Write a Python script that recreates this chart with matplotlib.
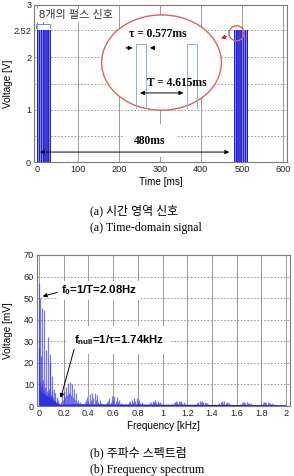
import numpy as np
import matplotlib.pyplot as plt
from matplotlib.patches import Ellipse

plt.rcParams['font.family'] = ['Liberation Sans', 'Noto Sans CJK KR']
plt.rcParams['mathtext.fontset'] = 'custom'
plt.rcParams['mathtext.rm'] = 'Liberation Sans'
plt.rcParams['mathtext.bf'] = 'Liberation Sans:bold'

# --- (a) time-domain pulse bursts ---
burst_start_ms = [0, 480]
pulses_per_burst = 8
pulse_period_ms = 4.615
pulse_width_ms = 0.577
pulse_amp_v = 2.52
time_end_ms = 600
time_ticks = [0, 100, 200, 300, 400, 500, 600]
volt_ticks = [0, 1, 2, 2.52, 3]
volt_labels = ['0', '1', '2', '2.52', '3']

# --- (b) spectrum lines ---
freq_khz = [
    0.000, 0.003, 0.006, 0.009, 0.012, 0.015, 0.018, 0.021, 0.024, 0.027,
    0.030, 0.033, 0.036, 0.040, 0.043, 0.046, 0.050, 0.053, 0.057, 0.061,
    0.065, 0.069, 0.073, 0.077, 0.081, 0.085, 0.089, 0.093, 0.097, 0.101,
    0.105, 0.109, 0.113, 0.117, 0.121, 0.126, 0.131, 0.136, 0.142, 0.148,
    0.155, 0.162, 0.170,
    0.178, 0.186, 0.194, 0.202, 0.210, 0.218, 0.226, 0.234, 0.242, 0.250,
    0.258, 0.266, 0.274, 0.282, 0.290, 0.298, 0.306, 0.314, 0.322, 0.330,
    0.340,
    0.36, 0.37, 0.38, 0.39, 0.40, 0.41, 0.42, 0.43, 0.44, 0.45, 0.46, 0.47,
    0.48, 0.49, 0.50, 0.51,
    0.54, 0.55, 0.56, 0.57, 0.58, 0.59, 0.60, 0.61, 0.62, 0.63, 0.64, 0.65,
    0.66, 0.67,
    0.72, 0.73, 0.74, 0.75, 0.76, 0.77, 0.78, 0.79, 0.80, 0.81, 0.82, 0.83,
    0.84,
    0.89, 0.90, 0.91, 0.92, 0.93, 0.94, 0.95, 0.96, 0.97, 0.98, 0.99,
    1.08, 1.09, 1.10, 1.11, 1.12, 1.13, 1.14, 1.15, 1.16, 1.17, 1.18,
    1.27, 1.28, 1.29, 1.30, 1.31, 1.32, 1.33, 1.34, 1.35, 1.36,
    1.45, 1.46, 1.47, 1.48, 1.49, 1.50, 1.51, 1.52, 1.53, 1.54, 1.55,
    1.63, 1.64, 1.65, 1.66, 1.67, 1.68, 1.69, 1.70, 1.71, 1.72,
    1.80, 1.81, 1.82, 1.83, 1.84, 1.85, 1.86, 1.87, 1.88, 1.89, 1.90,
]
volt_mv = [
    57, 27, 8, 50, 11, 23, 9, 6, 45.5, 10,
    7, 12, 5, 44.5, 8, 6, 9, 5, 26, 7,
    5, 32, 6, 4, 8, 5, 20, 24, 5, 4,
    7, 14, 4, 3, 8, 3, 6, 2, 4, 2,
    3, 1.5, 1,
    2, 5, 3, 7, 4, 9, 5, 10.5, 6, 11,
    5, 10, 4, 8, 3, 6, 2, 3, 1.5, 2,
    1,
    1, 2, 3, 4, 2.5, 5.5, 3, 6, 3.5, 6, 3, 5,
    2, 3, 1.5, 1,
    1, 2, 2.5, 3.5, 2, 4.5, 3, 4.5, 2.5, 4, 2, 3,
    1.5, 1,
    1, 2, 2.5, 3, 2, 3.5, 2.5, 3.5, 2, 3, 1.5, 2,
    1,
    1, 1.5, 2, 2.5, 2, 2.8, 2, 2.5, 1.5, 2, 1,
    1, 1.5, 2, 2.5, 1.8, 2.5, 2, 2.3, 1.5, 1.8, 1,
    1, 1.5, 2, 2.3, 1.8, 2.3, 1.7, 2, 1.2, 1.5,
    1, 1.5, 2, 2.2, 1.6, 2.2, 1.6, 1.8, 1.2, 1.4, 1,
    1, 1.4, 1.8, 2, 1.5, 2, 1.4, 1.6, 1, 1.2,
    1, 1.3, 1.7, 1.9, 1.4, 1.9, 1.3, 1.5, 1, 1.2, 1,
]
floor_khz = [0, 0.02, 0.05, 0.08, 0.11, 0.14, 0.17, 0.3, 2.0]
floor_mv = [8, 6, 5, 4, 3, 1.5, 0.8, 1, 0.6]
freq_ticks = [0, 0.2, 0.4, 0.6, 0.8, 1.0, 1.2, 1.4, 1.6, 1.8, 2.0]
freq_labels = ['0', '0.2', '0.4', '0.6', '0.8', '1', '1.2', '1.4', '1.6', '1.8', '2']

fig = plt.figure(figsize=(2.94, 4.76), dpi=100)
grid_c = '#8a8a8a'
tick_kw = dict(labelsize=6.6, length=0, pad=2, labelcolor='#222222')
serif_kr = ['Liberation Serif', 'Noto Sans CJK KR']

# ---------- top panel ----------
ax = fig.add_axes([34 / 294, 1 - 162 / 476, 253 / 294, 157 / 476])
t = [0.0]
v = [0.0]
for b in burst_start_ms:
    for k in range(pulses_per_burst):
        t0 = b + k * pulse_period_ms
        t += [t0, t0, t0 + pulse_width_ms, t0 + pulse_width_ms]
        v += [0, pulse_amp_v, pulse_amp_v, 0]
    span = (pulses_per_burst - 1) * pulse_period_ms + pulse_width_ms
    ax.fill_between([b, b + span], 0, pulse_amp_v, color='#8585ec', lw=0, zorder=2)
t.append(time_end_ms)
v.append(0)
ax.plot(t, v, color='#2222cc', lw=0.55, zorder=3)

ax.set_xlim(-7, 610)
ax.set_ylim(0, 3)
ax.set_xticks(time_ticks)
ax.set_yticks(volt_ticks)
ax.set_yticklabels(volt_labels)
ax.set_yticks([0.5, 1.5], minor=True)
ax.tick_params(which='both', **tick_kw)
ax.tick_params(which='minor', length=0)
ax.xaxis.grid(True, color=grid_c, lw=0.6)
ax.yaxis.grid(True, which='both', color=grid_c, lw=0.6, ls=(0, (2, 2)))
ax.set_axisbelow(True)
for s in ax.spines.values():
    s.set_color('#7a7a7a')
    s.set_linewidth(0.8)
ax.set_xlabel('Time [ms]', fontsize=7.2, labelpad=2)
ax.set_ylabel('Voltage [V]', fontsize=7.2)
ax.yaxis.set_label_coords(-21 / 253, 0.5)

# zoomed pulse inset
ax.add_patch(Ellipse((304, 1.90), 292, 1.82, fc='white', ec='#e06060', lw=1.0, zorder=4))
for x0 in (242, 366):
    ax.plot([x0, x0, x0 + 24, x0 + 24], [1.03, 2.25, 2.25, 1.03], color='#8fb0d8', lw=0.7, zorder=5)
serif_b = dict(family=serif_kr, fontweight='bold', fontsize=8.3)
ax.text(296, 2.44, 'τ = 0.577ms', ha='center', va='center', zorder=6, **serif_b)
arr = dict(arrowstyle='-|>', color='k', lw=0.7, mutation_scale=6)
ax.annotate('', xy=(240, 2.18), xytext=(210, 2.18), arrowprops=arr, zorder=6)
ax.annotate('', xy=(269, 2.18), xytext=(295, 2.18), arrowprops=arr, zorder=6)
ax.text(342, 1.50, 'T = 4.615ms', ha='center', va='center', zorder=6, **serif_b)
ax.annotate('', xy=(364, 1.32), xytext=(245, 1.32),
            arrowprops=dict(arrowstyle='<|-|>', color='k', lw=0.7, mutation_scale=6), zorder=6)
ax.add_patch(Ellipse((487, 2.46), 36.5, 0.287, fill=False, ec='#e06060', lw=1.0, zorder=6))
ax.annotate('', xy=(442, 2.35), xytext=(469, 2.41),
            arrowprops=dict(arrowstyle='-|>', color='#e02020', lw=0.8, mutation_scale=6), zorder=6)

ax.text(4, 2.80, '8개의 펄스 신호', fontsize=8, color='#333333', va='center', ha='left',
        bbox=dict(fc='white', ec='none', pad=1), zorder=6)
ax.plot([-1.5, -1.5, 31, 31], [2.57, 2.63, 2.63, 2.57], color='#6a8fd0', lw=0.7, zorder=6)
ax.plot([14.7, 14.7], [2.63, 2.67], color='#6a8fd0', lw=0.7, zorder=6)

ax.text(276, 0.41, '480ms', ha='center', va='center', zorder=6,
        bbox=dict(boxstyle='square,pad=0.9', fc='white', ec='none'), **serif_b)
ax.annotate('', xy=(476, 0.19), xytext=(1, 0.19),
            arrowprops=dict(arrowstyle='<|-|>', color='k', lw=0.7, mutation_scale=6), zorder=6)

fig.text(90 / 294, 1 - 211 / 476, '(a) 시간 영역 신호', fontsize=8.6, va='center', ha='left',
         family=serif_kr)
fig.text(90 / 294, 1 - 228 / 476, '(a) Time-domain signal', fontsize=8.6, va='center', ha='left',
         family=serif_kr)

# ---------- bottom panel ----------
ax2 = fig.add_axes([37 / 294, 1 - 406 / 476, 253 / 294, 151 / 476])
ax2.fill_between(floor_khz, 0, floor_mv, color='#1a1ad8', lw=0, zorder=2)
ax2.vlines(freq_khz, 0, volt_mv, color='#3333dd', lw=0.9, alpha=0.65, zorder=3)
ax2.set_xlim(-0.016, 2.032)
ax2.set_ylim(0, 70)
ax2.set_xticks(freq_ticks)
ax2.set_xticklabels(freq_labels)
ax2.set_yticks(np.arange(0, 71, 10))
ax2.tick_params(**tick_kw)
ax2.xaxis.grid(True, color=grid_c, lw=0.6)
ax2.yaxis.grid(True, color=grid_c, lw=0.6, ls=(0, (2, 2)))
ax2.set_axisbelow(True)
for s in ax2.spines.values():
    s.set_color('#7a7a7a')
    s.set_linewidth(0.8)
ax2.set_xlabel('Frequency [kHz]', fontsize=7.2, labelpad=2)
ax2.set_ylabel('Voltage [mV]', fontsize=7.2)
ax2.yaxis.set_label_coords(-24 / 253, 0.5)

ax2.text(0.18, 53.5, r'$\mathbf{f_0}$=1/T=2.08Hz', fontsize=8.2, fontweight='bold',
         va='center', ha='left', zorder=6, bbox=dict(fc='white', ec='none', pad=2))
ax2.annotate('', xy=(0.008, 50.5), xytext=(0.17, 53),
             arrowprops=dict(arrowstyle='-|>', color='k', lw=0.7, mutation_scale=6), zorder=6)
ax2.text(0.28, 30.5, r'$\mathbf{f_{null}}$=1/τ=1.74kHz', fontsize=8.2, fontweight='bold',
         va='center', ha='left', zorder=6, bbox=dict(boxstyle='square,pad=0.6', fc='white', ec='none'))
ax2.annotate('', xy=(0.17, 2.5), xytext=(0.29, 27.5),
             arrowprops=dict(arrowstyle='-|>', color='k', lw=0.7, mutation_scale=6), zorder=6)

fig.text(90 / 294, 1 - 453 / 476, '(b) 주파수 스펙트럼', fontsize=8.6, va='center', ha='left',
         family=serif_kr)
fig.text(90 / 294, 1 - 470 / 476, '(b) Frequency spectrum', fontsize=8.6, va='center', ha='left',
         family=serif_kr)

fig.savefig('out.png', dpi=100)
